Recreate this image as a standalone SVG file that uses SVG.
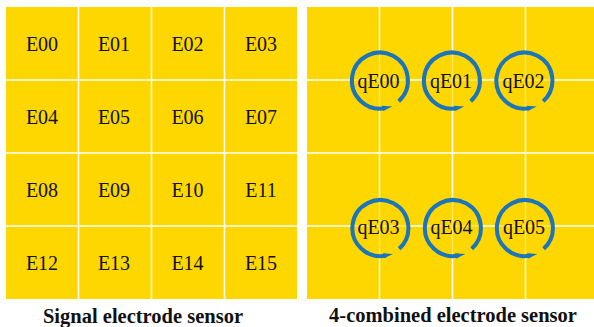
<svg xmlns="http://www.w3.org/2000/svg" width="594" height="327" viewBox="0 0 594 327">
<style>
.bg{fill:#FFD700}
.grid{stroke:#FFFFFF;stroke-width:1.5;fill:none}
.lbl{font-family:"Liberation Serif","Times New Roman",serif;font-size:20px;fill:#111;text-anchor:middle}
.ttl{font-family:"Liberation Serif","Times New Roman",serif;font-size:20.5px;font-weight:bold;fill:#111;text-anchor:middle}
.ring{fill:#FFD700;fill-opacity:0.6;stroke:none}
.arc{fill:none;stroke:#1B75BC;stroke-width:4;marker-end:url(#ah)}
</style>
<defs>
<marker id="ah" markerUnits="userSpaceOnUse" markerWidth="12" markerHeight="10" refX="3" refY="4" orient="auto" viewBox="0 0 12 8">
<path d="M0,1 L10,4 L0,6.5 z" fill="#1B75BC"/>
</marker>
<path id="q" d="M18.7,20.8 A28,28 0 1 0 5.5,27.5"/>
</defs>
<rect width="594" height="327" fill="#FFFFFF"/>
<g id="left-sensor">
<rect class="bg" x="6" y="7" width="291" height="292"/>
<path class="grid" d="M78.5,7V299M151.5,7V299M224.5,7V299M6,80H297M6,153H297M6,226H297"/>
</g>
<g id="E00"><text class="lbl" x="42" y="50.5">E00</text></g>
<g id="E01"><text class="lbl" x="114" y="50.5">E01</text></g>
<g id="E02"><text class="lbl" x="187.5" y="50.5">E02</text></g>
<g id="E03"><text class="lbl" x="261" y="50.5">E03</text></g>
<g id="E04"><text class="lbl" x="42" y="123.5">E04</text></g>
<g id="E05"><text class="lbl" x="114" y="123.5">E05</text></g>
<g id="E06"><text class="lbl" x="187.5" y="123.5">E06</text></g>
<g id="E07"><text class="lbl" x="261" y="123.5">E07</text></g>
<g id="E08"><text class="lbl" x="42" y="196.5">E08</text></g>
<g id="E09"><text class="lbl" x="114" y="196.5">E09</text></g>
<g id="E10"><text class="lbl" x="187.5" y="196.5">E10</text></g>
<g id="E11"><text class="lbl" x="261" y="196.5">E11</text></g>
<g id="E12"><text class="lbl" x="42" y="269.5">E12</text></g>
<g id="E13"><text class="lbl" x="114" y="269.5">E13</text></g>
<g id="E14"><text class="lbl" x="187.5" y="269.5">E14</text></g>
<g id="E15"><text class="lbl" x="261" y="269.5">E15</text></g>
<g id="right-sensor">
<rect class="bg" x="307" y="7" width="287" height="292"/>
<path class="grid" d="M379.5,7V299M452.5,7V299M525.5,7V299M307,80H594M307,153H594M307,226H594"/>
</g>
<g id="qE00"><circle class="ring" cx="380" cy="80.5" r="28"/><use href="#q" class="arc" x="380" y="80.5"/><text class="lbl" x="378.5" y="87.5">qE00</text></g>
<g id="qE01"><circle class="ring" cx="452" cy="80.5" r="28"/><use href="#q" class="arc" x="452" y="80.5"/><text class="lbl" x="451" y="87.5">qE01</text></g>
<g id="qE02"><circle class="ring" cx="524.5" cy="80.5" r="28"/><use href="#q" class="arc" x="524.5" y="80.5"/><text class="lbl" x="523.5" y="87.5">qE02</text></g>
<g id="qE03"><circle class="ring" cx="380.5" cy="228" r="28"/><use href="#q" class="arc" x="380.5" y="228"/><text class="lbl" x="378.5" y="233.5">qE03</text></g>
<g id="qE04"><circle class="ring" cx="453" cy="228" r="28"/><use href="#q" class="arc" x="453" y="228"/><text class="lbl" x="451.5" y="233.5">qE04</text></g>
<g id="qE05"><circle class="ring" cx="525" cy="228" r="28"/><use href="#q" class="arc" x="525" y="228"/><text class="lbl" x="524" y="233.5">qE05</text></g>
<g id="titles">
<text class="ttl" x="143" y="322.5">Signal electrode sensor</text>
<text class="ttl" x="453" y="322">4-combined electrode sensor</text>
</g>
</svg>
